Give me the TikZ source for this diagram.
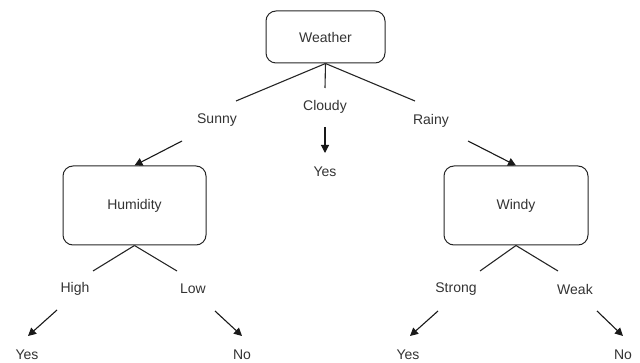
\documentclass[tikz,border=0pt]{standalone}
\usepackage{fontspec}
\setmainfont{Liberation Sans}
\usetikzlibrary{arrows.meta}
\begin{document}
\begin{tikzpicture}[x=1pt,y=-1pt,
  box/.style={draw=black!85, line width=1pt, rounded corners=10pt, inner sep=0pt},
  lbl/.style={inner sep=0pt, font=\fontsize{14}{16}\selectfont, text=black!80},
  edge/.style={draw=black!85, line width=1.1pt},
  arr/.style={draw=black!90, line width=1.1pt, -{Triangle[length=8pt,width=8pt]}}]
\useasboundingbox (0,0) rectangle (640,363);
% boxes
\node[box, minimum width=119pt, minimum height=52pt] (weather) at (325.5,37) {};
\node[lbl] (weathert) at (325.5,37) {Weather};
\node[box, minimum width=143pt, minimum height=79pt] (humid) at (134.5,205.5) {};
\node[lbl] (humidt) at (134.5,205.5) {Humidity};
\node[box, minimum width=144pt, minimum height=79pt] (windy) at (516,205.5) {};
\node[lbl] (windyt) at (516,205.5) {Windy};
% labels
\node[lbl] (sunny) at (217,120) {Sunny};
\node[lbl] (cloudy) at (325,107) {Cloudy};
\node[lbl] (rainy) at (431,121) {Rainy};
\node[lbl] (yes0) at (325,172) {Yes};
\node[lbl] (high) at (75,289) {High};
\node[lbl] (low) at (193,289) {Low};
\node[lbl] (yes1) at (27,355) {Yes};
\node[lbl] (no1) at (242,355) {No};
\node[lbl] (strong) at (456,289) {Strong};
\node[lbl] (weak) at (575,289) {Weak};
\node[lbl] (yes2) at (408,355) {Yes};
\node[lbl] (no2) at (623,355) {No};
% free ends
\coordinate (wS) at (236,101);
\coordinate (wC) at (325,88);
\coordinate (wR) at (415,101);
\coordinate (hH) at (93,271);
\coordinate (hL) at (177,271);
\coordinate (dS) at (480,271);
\coordinate (dW) at (558,271);
\coordinate (sA) at (182,141);
\coordinate (rA) at (468,141);
\coordinate (cA) at (325,127);
\coordinate (cB) at (325,153);
\coordinate (hA) at (57,310);
\coordinate (hB) at (28,336);
\coordinate (lA) at (215,311);
\coordinate (lB) at (242,336);
\coordinate (sgA) at (438,311);
\coordinate (sgB) at (410,336);
\coordinate (wkA) at (597,311);
\coordinate (wkB) at (623,336);
% connectors
\draw[edge] (weather.south) -- (wS);
\draw[edge] (weather.south) -- (wC);
\draw[edge] (weather.south) -- (wR);
\draw[edge] (humid.south) -- (hH);
\draw[edge] (humid.south) -- (hL);
\draw[edge] (windy.south) -- (dS);
\draw[edge] (windy.south) -- (dW);
\draw[arr] (sA) -- (humid.north);
\draw[arr] (rA) -- (windy.north);
\draw[arr] (cA) -- (cB);
\draw[arr] (hA) -- (hB);
\draw[arr] (lA) -- (lB);
\draw[arr] (sgA) -- (sgB);
\draw[arr] (wkA) -- (wkB);
\end{tikzpicture}
\end{document}
